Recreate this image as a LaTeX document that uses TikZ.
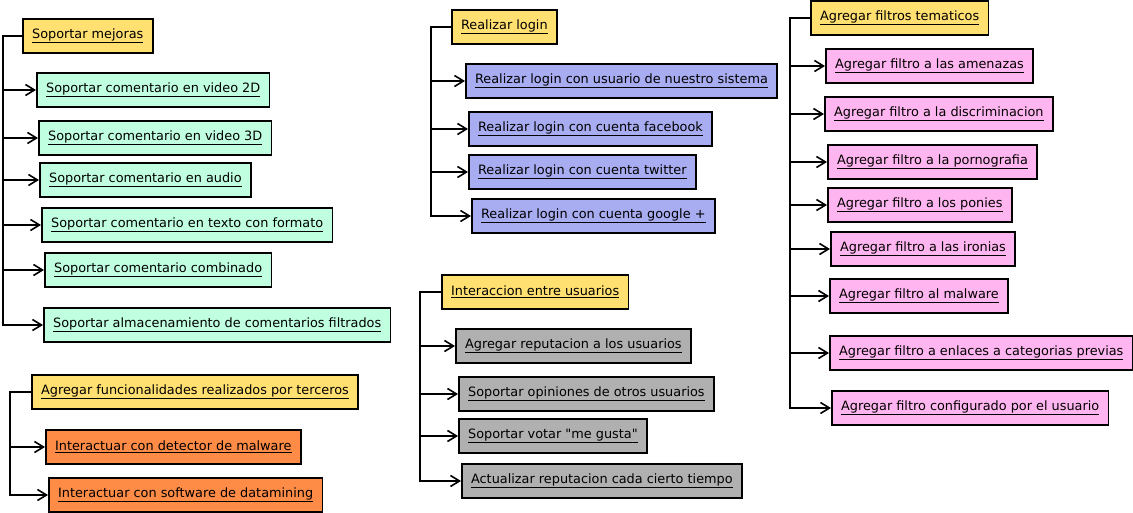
\documentclass[tikz,border=0pt]{standalone}
\usepackage{fontspec}
\newfontfamily\mapafont{DejaVu Sans}
\usepackage{tikz}
\usetikzlibrary{arrows.meta}

\definecolor{raiz}{RGB}{255,224,112}
\definecolor{menta}{RGB}{192,255,224}
\definecolor{naranja}{RGB}{255,140,70}
\definecolor{lila}{RGB}{168,172,240}
\definecolor{gris}{RGB}{176,176,176}
\definecolor{rosa}{RGB}{255,182,240}

\tikzset{
  tarea/.style={draw,rectangle,line width=1.6pt,anchor=west,minimum height=34pt,
    inner xsep=9.3pt,font=\mapafont\fontsize{12.85}{15}\selectfont},
  raizbox/.style={tarea,fill=raiz},
  mentabox/.style={tarea,fill=menta},
  naranjabox/.style={tarea,fill=naranja},
  lilabox/.style={tarea,fill=lila},
  grisbox/.style={tarea,fill=gris},
  rosabox/.style={tarea,fill=rosa},
  rama/.style={line width=1.6pt,-{Straight Barb[length=9pt,width=11pt]}}
}

\begin{document}
\begin{tikzpicture}[x=1pt,y=-1pt]
\useasboundingbox (0,0) rectangle (1133,513);

% soportar mejoras
\node [raizbox] (mej) at (22,36) {\underline{Soportar mejoras}};
\node [mentabox] (mej1) at (36,90) {\underline{Soportar comentario en video 2D}};
\node [mentabox] (mej2) at (38,138) {\underline{Soportar comentario en video 3D}};
\node [mentabox] (mej3) at (39,180) {\underline{Soportar comentario en audio}};
\node [mentabox] (mej4) at (41,225) {\underline{Soportar comentario en texto con formato}};
\node [mentabox] (mej5) at (44,270) {\underline{Soportar comentario combinado}};
\node [mentabox] (mej6) at (43,325) {\underline{Soportar almacenamiento de comentarios filtrados}};
\foreach \i in {1,...,6}
  \draw [rama] (mej.west) -- ++(-19,0) |- (mej\i.west);

% terceros
\node [raizbox] (ter) at (31,392) {\underline{Agregar funcionalidades realizados por terceros}};
\node [naranjabox] (ter1) at (45,447) {\underline{Interactuar con detector de malware}};
\node [naranjabox] (ter2) at (48,495) {\underline{Interactuar con software de datamining}};
\foreach \i in {1,2}
  \draw [rama] (ter.west) -- ++(-21,0) |- (ter\i.west);

% login
\node [raizbox] (log) at (451,27) {\underline{Realizar login}};
\node [lilabox] (log1) at (465,81) {\underline{Realizar login con usuario de nuestro sistema}};
\node [lilabox] (log2) at (468,129) {\underline{Realizar login con cuenta facebook}};
\node [lilabox] (log3) at (468,172) {\underline{Realizar login con cuenta twitter}};
\node [lilabox] (log4) at (471,216) {\underline{Realizar login con cuenta google +}};
\foreach \i in {1,...,4}
  \draw [rama] (log.west) -- ++(-20,0) |- (log\i.west);

% usuarios
\node [raizbox] (usu) at (441,292) {\underline{Interaccion entre usuarios}};
\node [grisbox] (usu1) at (455,346) {\underline{Agregar reputacion a los usuarios}};
\node [grisbox] (usu2) at (458,394) {\underline{Soportar opiniones de otros usuarios}};
\node [grisbox] (usu3) at (458,436) {\underline{Soportar votar "me gusta"}};
\node [grisbox] (usu4) at (461,481) {\underline{Actualizar reputacion cada cierto tiempo}};
\foreach \i in {1,...,4}
  \draw [rama] (usu.west) -- ++(-21,0) |- (usu\i.west);

% filtros
\node [raizbox] (fil) at (810,18) {\underline{Agregar filtros tematicos}};
\node [rosabox] (fil1) at (825,66) {\underline{Agregar filtro a las amenazas}};
\node [rosabox] (fil2) at (824,114) {\underline{Agregar filtro a la discriminacion}};
\node [rosabox] (fil3) at (827,162) {\underline{Agregar filtro a la pornografia}};
\node [rosabox] (fil4) at (827,205) {\underline{Agregar filtro a los ponies}};
\node [rosabox] (fil5) at (830,249) {\underline{Agregar filtro a las ironias}};
\node [rosabox] (fil6) at (829,296) {\underline{Agregar filtro al malware}};
\node [rosabox] (fil7) at (829,353) {\underline{Agregar filtro a enlaces a categorias previas}};
\node [rosabox] (fil8) at (831,408) {\underline{Agregar filtro configurado por el usuario}};
\foreach \i in {1,...,8}
  \draw [rama] (fil.west) -- ++(-20,0) |- (fil\i.west);
\end{tikzpicture}
\end{document}
